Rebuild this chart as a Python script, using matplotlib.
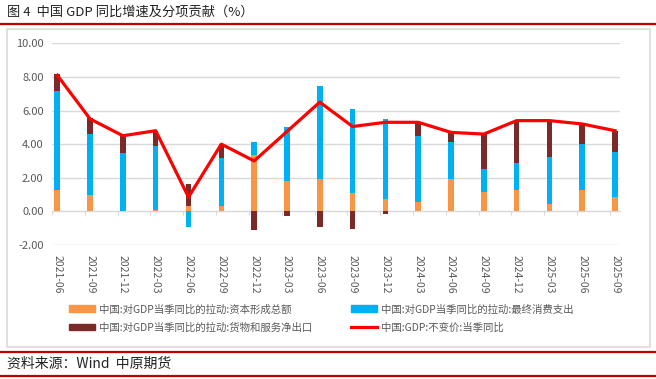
import numpy as np
import matplotlib
matplotlib.use("Agg")
import matplotlib.pyplot as plt
from matplotlib.patches import Rectangle
from matplotlib.lines import Line2D

plt.rcParams['font.family'] = ['Noto Sans CJK SC', 'DejaVu Sans']

# 季度
quarters = ["2021-06", "2021-09", "2021-12", "2022-03", "2022-06", "2022-09",
            "2022-12", "2023-03", "2023-06", "2023-09", "2023-12", "2024-03",
            "2024-06", "2024-09", "2024-12", "2025-03", "2025-06", "2025-09"]

# 各项拉动（百分点）
capital = [1.30, 1.00, 0.05, 0.10, 0.30, 0.35, 3.35, 1.80, 1.95, 1.10, 0.75, 0.55,
           1.90, 1.15, 1.30, 0.45, 1.25, 0.85]
consumption = [5.85, 3.60, 3.40, 3.80, -0.90, 2.80, 0.75, 3.20, 5.50, 5.00, 4.75, 3.95,
               2.25, 1.40, 1.60, 2.80, 2.75, 2.70]
net_export = [1.00, 0.95, 1.05, 0.90, 1.35, 0.85, -1.10, -0.25, -0.95, -1.05, -0.15, 0.80,
              0.55, 2.05, 2.50, 2.15, 1.20, 1.25]
# GDP 不变价当季同比
gdp = [8.1, 5.5, 4.5, 4.8, 0.85, 4.0, 3.0, 4.75, 6.5, 5.05, 5.3, 5.3,
       4.7, 4.6, 5.4, 5.4, 5.2, 4.8]

names = ["中国:对GDP当季同比的拉动:资本形成总额",
         "中国:对GDP当季同比的拉动:最终消费支出",
         "中国:对GDP当季同比的拉动:货物和服务净出口",
         "中国:GDP:不变价:当季同比"]
colors = ["#F79646", "#00B0F0", "#7B2A2A"]
gray = "#595959"

W, H = 656, 379
fig = plt.figure(figsize=(W / 100, H / 100), dpi=100)

def fx(px):
    return px / W

def fy(py):
    return 1 - py / H

# 标题及红线
fig.text(fx(7), fy(12), "图 4  中国 GDP 同比增速及分项贡献（%）", fontsize=9.5,
         va="center", ha="left", color="#222222")
fig.add_artist(Line2D([0, 1], [fy(23.5), fy(23.5)], color="#C00000", lw=1.6))
fig.add_artist(Line2D([0, 1], [fy(352), fy(352)], color="#C00000", lw=1.6))
fig.add_artist(Line2D([0, 1], [fy(375.5), fy(375.5)], color="#C00000", lw=1.6))
fig.text(fx(7), fy(364), "资料来源：Wind  中原期货", fontsize=10, va="center", ha="left",
         color="#222222")
fig.add_artist(Rectangle((fx(7), fy(346.5)), fx(643), fy(28.5) - fy(346.5),
                         transform=fig.transFigure, fill=False, ec="#DDDDDD", lw=1.3))

ax = fig.add_axes([fx(52), fy(245), fx(568), fy(43.3) - fy(245)])
x = np.arange(len(quarters))
w = 0.17

pos = np.zeros(len(x))
neg = np.zeros(len(x))
for vals, c in zip([capital, consumption, net_export], colors):
    v = np.array(vals)
    bottom = np.where(v >= 0, pos, neg)
    ax.bar(x, v, w, bottom=bottom, color=c, zorder=2)
    pos = pos + np.where(v >= 0, v, 0)
    neg = neg + np.where(v < 0, v, 0)

ax.plot(x, gdp, color="#FF0000", lw=2.3, zorder=3)

ax.set_ylim(-2, 10)
ax.set_yticks(np.arange(-2, 10.1, 2))
ax.yaxis.set_major_formatter(matplotlib.ticker.FormatStrFormatter("%.2f"))
ax.grid(axis="y", color="#D9D9D9", lw=1, zorder=0)
ax.set_xlim(-0.16, 17.15)
ax.set_xticks(x)
ax.set_xticklabels(quarters, rotation=-90)
ax.tick_params(axis="x", length=0, pad=7, labelsize=7.5, labelcolor=gray)
ax.tick_params(axis="y", length=0, pad=6, labelsize=8, labelcolor=gray)
for s in ax.spines.values():
    s.set_visible(False)

# 零轴刻度
sec = ax.secondary_xaxis(1 / 6)
sec.set_xticks(x - 0.16)
sec.tick_params(axis="x", length=3, color="#D9D9D9", labelbottom=False, labeltop=False)
sec.spines["bottom"].set_color("#D9D9D9")

handles = [Rectangle((0, 0), 1, 1, color=colors[0]),
           Rectangle((0, 0), 1, 1, color=colors[2]),
           Rectangle((0, 0), 1, 1, color=colors[1]),
           Line2D([0], [0], color="#FF0000", lw=2.3)]
labels = [names[0], names[2], names[1], names[3]]
leg = fig.legend(handles, labels, ncol=2, loc="upper left",
                 bbox_to_anchor=(fx(64), fy(299)), frameon=False, fontsize=7.5,
                 handlelength=2.5, handleheight=0.6, handletextpad=0.4,
                 columnspacing=3.7, labelspacing=0.75, borderpad=0)
for t in leg.get_texts():
    t.set_color(gray)

fig.savefig("out.png", dpi=100)
